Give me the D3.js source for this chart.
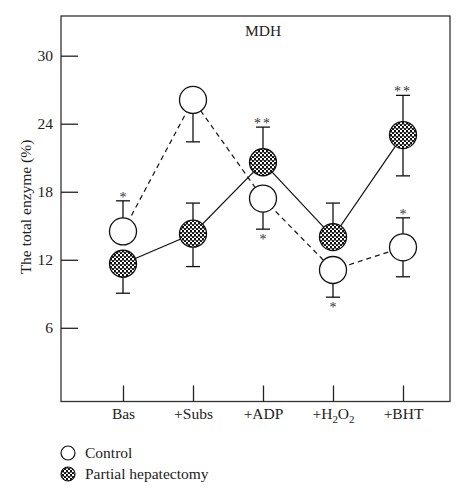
<!DOCTYPE html>
<html lang="en">
  <head>
    <meta charset="UTF-8">
    <title>MDH</title>
    <style>
      body { margin: 0; background: #fff; }
      svg text { font-family: "Liberation Serif", "DejaVu Serif", serif; fill: #222; }
      .axis path.domain { display: none; }
      .axis .tick line { stroke: #222; stroke-width: 1.3; }
      .axis text { font-size: 15.5px; }
    </style>
    <script src="https://d3js.org/d3.v7.min.js"></script>
  </head>
  <body>
    <script>
      // values
      const categories = ["Bas", "+Subs", "+ADP", "+H2O2", "+BHT"];
      const yTicks = [6, 12, 18, 24, 30];

      const controlMean = [14.5, 26.1, 17.4, 11.1, 13.1];
      const controlErrUp = [2.7, 0, 0, 0, 2.6];
      const controlErrDown = [0, 3.7, 2.7, 2.4, 2.6];
      const controlSig = ["*", "", "*", "*", "*"];

      const phMean = [11.65, 14.3, 20.6, 14.0, 23.0];
      const phErrUp = [0, 2.7, 3.1, 3.0, 3.5];
      const phErrDown = [2.6, 2.9, 0, 0, 3.6];
      const phSig = ["", "", "**", "", "**"];

      const width = 467, height = 500;
      const frame = { left: 61, right: 450, top: 16, bottom: 401.5 };

      const svg = d3.select("body").append("svg")
        .attr("width", width)
        .attr("height", height);

      const defs = svg.append("defs");
      const pat = defs.append("pattern")
        .attr("id", "checker")
        .attr("patternUnits", "userSpaceOnUse")
        .attr("width", 4).attr("height", 4);
      pat.append("rect").attr("width", 4).attr("height", 4).attr("fill", "#fff");
      pat.append("rect").attr("x", 0).attr("y", 0).attr("width", 2).attr("height", 2).attr("fill", "#111");
      pat.append("rect").attr("x", 2).attr("y", 2).attr("width", 2).attr("height", 2).attr("fill", "#111");
      pat.append("rect").attr("x", 0).attr("y", 0).attr("width", 4).attr("height", 0.6).attr("fill", "#333");

      const x = d3.scalePoint()
        .domain(categories)
        .range([123, 403]);

      const y = d3.scaleLinear()
        .domain([-0.5, 33.5])
        .range([frame.bottom, frame.top]);

      // frame
      svg.append("rect")
        .attr("x", frame.left)
        .attr("y", frame.top)
        .attr("width", frame.right - frame.left)
        .attr("height", frame.bottom - frame.top)
        .attr("fill", "none")
        .attr("stroke", "#333")
        .attr("stroke-width", 1.3);

      svg.append("g")
        .attr("class", "axis")
        .attr("transform", `translate(${frame.left},0)`)
        .call(d3.axisLeft(y).tickValues(yTicks).tickSizeInner(-17).tickSizeOuter(0).tickPadding(8));

      const xAxis = svg.append("g")
        .attr("class", "axis")
        .attr("transform", `translate(0,${frame.bottom})`)
        .call(d3.axisBottom(x).tickSizeInner(-16).tickSizeOuter(0).tickPadding(6));

      // subscripts for H2O2
      xAxis.selectAll(".tick text").each(function(d) {
        if (d.indexOf("H2O2") < 0) return;
        const t = d3.select(this).text(null);
        t.append("tspan").text("+H");
        t.append("tspan").attr("dy", 4).attr("font-size", 11).text("2");
        t.append("tspan").attr("dy", -4).text("O");
        t.append("tspan").attr("dy", 4).attr("font-size", 11).text("2");
      });

      svg.append("text")
        .attr("transform", "rotate(-90)")
        .attr("x", -207)
        .attr("y", 31)
        .attr("text-anchor", "middle")
        .style("font-size", "15.5px")
        .text("The total enzyme (%)");

      svg.append("text")
        .attr("x", 245)
        .attr("y", 36)
        .style("font-size", "15.5px")
        .text("MDH");

      const control = categories.map((c, i) => ({ cat: c, mean: controlMean[i], up: controlErrUp[i], down: controlErrDown[i], sig: controlSig[i] }));
      const ph = categories.map((c, i) => ({ cat: c, mean: phMean[i], up: phErrUp[i], down: phErrDown[i], sig: phSig[i] }));

      const line = d3.line().x(d => x(d.cat)).y(d => y(d.mean));

      svg.append("path")
        .datum(control)
        .attr("d", line)
        .attr("fill", "none")
        .attr("stroke", "#111")
        .attr("stroke-width", 1.2)
        .attr("stroke-dasharray", "5,4");

      svg.append("path")
        .datum(ph)
        .attr("d", line)
        .attr("fill", "none")
        .attr("stroke", "#111")
        .attr("stroke-width", 1.2);

      const r = 13.5, cap = 7;

      function errorBars(data) {
        const g = svg.append("g").attr("stroke", "#111").attr("stroke-width", 1.3);
        data.forEach(d => {
          const cx = x(d.cat);
          [[d.up, 1], [d.down, -1]].forEach(([e, s]) => {
            if (!e) return;
            const yEnd = y(d.mean + s * e);
            g.append("line").attr("x1", cx).attr("x2", cx).attr("y1", y(d.mean)).attr("y2", yEnd);
            g.append("line").attr("x1", cx - cap).attr("x2", cx + cap).attr("y1", yEnd).attr("y2", yEnd);
          });
          if (d.sig) {
            const above = d.up > 0;
            const yEnd = above ? y(d.mean + d.up) : y(d.mean - d.down);
            svg.append("text")
              .attr("x", cx)
              .attr("y", above ? yEnd + 1 : yEnd + 15)
              .attr("text-anchor", "middle")
              .style("font-size", "14px")
              .style("letter-spacing", d.sig.length > 1 ? "2px" : "0px")
              .style("fill", "#333")
              .text(d.sig);
          }
        });
      }
      errorBars(control);
      errorBars(ph);

      svg.append("g").selectAll("circle")
        .data(control)
        .enter().append("circle")
        .attr("cx", d => x(d.cat))
        .attr("cy", d => y(d.mean))
        .attr("r", r)
        .attr("fill", "#fff")
        .attr("stroke", "#111")
        .attr("stroke-width", 1.3);

      svg.append("g").selectAll("circle")
        .data(ph)
        .enter().append("circle")
        .attr("cx", d => x(d.cat))
        .attr("cy", d => y(d.mean))
        .attr("r", r)
        .attr("fill", "url(#checker)")
        .attr("stroke", "#111")
        .attr("stroke-width", 1.3);

      // legend
      const legend = [
        { label: "Control", fill: "#fff" },
        { label: "Partial hepatectomy", fill: "url(#checker)" }
      ];
      legend.forEach((l, i) => {
        const ly = 453 + i * 21;
        svg.append("circle")
          .attr("cx", 68).attr("cy", ly).attr("r", 7)
          .attr("fill", l.fill)
          .attr("stroke", "#111")
          .attr("stroke-width", 1.2);
        svg.append("text")
          .attr("x", 85).attr("y", ly + 5)
          .style("font-size", "15.5px")
          .text(l.label);
      });
    </script>
  </body>
</html>
